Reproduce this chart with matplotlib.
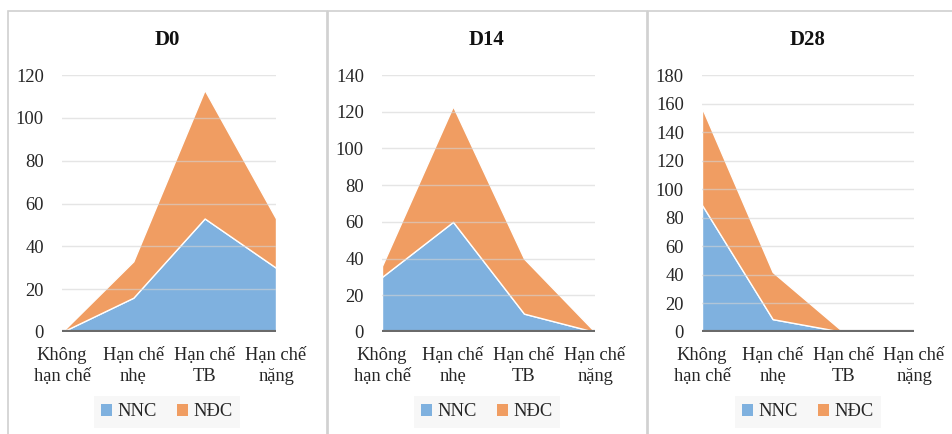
import matplotlib
matplotlib.use("Agg")
import matplotlib.pyplot as plt
from matplotlib.patches import Rectangle, Patch

plt.rcParams["font.family"] = ["Liberation Serif", "DejaVu Serif"]

# dữ liệu
categories = ["Không\nhạn chế", "Hạn chế\nnhẹ", "Hạn chế\nTB", "Hạn chế\nnặng"]
titles = ["D0", "D14", "D28"]
nnc_d0 = [0, 16, 53, 30]
ndc_d0 = [0, 17, 60, 23]
nnc_d14 = [30, 60, 10, 0]
ndc_d14 = [6, 63, 30, 0]
nnc_d28 = [89, 9, 0, 0]
ndc_d28 = [68, 33, 0, 0]
ymax = [120, 140, 180]
ystep = [20, 20, 20]

series = [(nnc_d0, ndc_d0), (nnc_d14, ndc_d14), (nnc_d28, ndc_d28)]

W, H = 952, 434
fig = plt.figure(figsize=(W / 100, H / 100), dpi=100)

blue = "#7fb1df"
orange = "#f09d62"
fs = 13.3

# khung từng biểu đồ (pixel)
panels = [(8, 327), (328, 647), (648, 966)]
axes_x = [(62, 276), (382, 595), (702, 914)]
title_x = [167, 487, 808]
ax_top, ax_bot = 75, 332

for i in range(3):
    px0, px1 = panels[i]
    fig.patches.append(Rectangle((px0 / W, -0.1), (px1 - px0) / W, 1.1 - 11 / H,
                                 transform=fig.transFigure, fill=False,
                                 edgecolor="#d0d0d0", lw=1.2))
    x0, x1 = axes_x[i]
    ax = fig.add_axes([x0 / W, (H - ax_bot) / H, (x1 - x0) / W, (ax_bot - ax_top) / H])
    nnc, ndc = series[i]
    xs = list(range(len(categories)))
    ax.stackplot(xs, nnc, ndc, colors=[blue, orange], edgecolor="white", lw=1.0, zorder=2)
    ax.set_xlim(0, len(categories) - 1)
    ax.set_ylim(0, ymax[i])
    ax.set_yticks(range(0, ymax[i] + 1, ystep[i]))
    ax.yaxis.grid(True, color="#d4d4d4", lw=1, zorder=3, alpha=0.6)
    ax.set_axisbelow(False)
    ax.axhline(0, color="#6a6a6a", lw=3, zorder=4)
    for s in ax.spines.values():
        s.set_visible(False)
    ax.set_xticks(xs)
    ax.set_xticklabels(categories, fontsize=fs, color="#262626", linespacing=1.3)
    ax.tick_params(axis="both", length=0, labelsize=fs, colors="#262626")
    ax.tick_params(axis="y", pad=13)
    ax.tick_params(axis="x", pad=11)
    ax.set_facecolor("none")

    cx = title_x[i]
    fig.text(cx / W, 1 - 40 / H, titles[i], ha="center", va="center",
             fontsize=15, fontweight="bold", color="#111111")

    handles = [Patch(facecolor=blue, edgecolor="none", label="NNC"),
               Patch(facecolor=orange, edgecolor="none", label="NĐC")]
    leg = fig.legend(handles=handles, loc="center", ncol=2,
                     bbox_to_anchor=(cx / W, 1 - 412 / H), fontsize=fs,
                     frameon=True, fancybox=False, handlelength=0.6, handleheight=0.6,
                     handletextpad=0.3, columnspacing=1.1, borderpad=0.4)
    leg.get_frame().set_facecolor("#f6f6f6")
    leg.get_frame().set_edgecolor("none")
    for t in leg.get_texts():
        t.set_color("#262626")

fig.savefig("out.png", dpi=100)
